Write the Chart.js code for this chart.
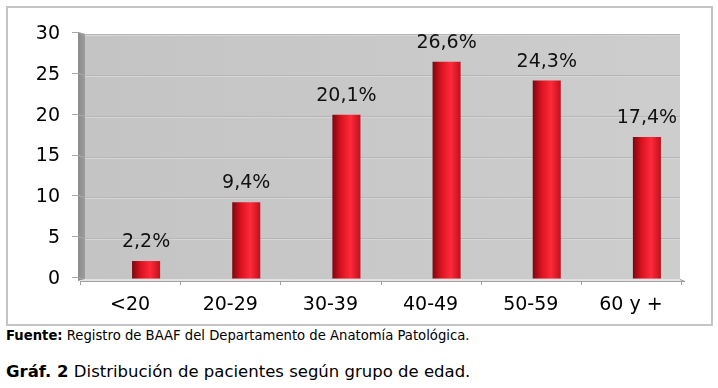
<!DOCTYPE html>
<html>
<head>
<meta charset="utf-8">
<script src="https://cdn.jsdelivr.net/npm/chart.js@4.4.1/dist/chart.umd.min.js"></script>
<style>
  body { margin: 0; background: #fff; width: 718px; height: 388px; position: relative; overflow: hidden; font-family: 'DejaVu Sans', Verdana, sans-serif; color: #000; }
  #caja { position: absolute; left: 6px; top: 6px; width: 703px; height: 316px; border: 2px solid #c4c4c4; }
  #fuente { position: absolute; left: 6px; top: 328px; font-size: 13.2px; line-height: 15px; white-space: nowrap; }
  #titulo { position: absolute; left: 6px; top: 362px; font-size: 16.5px; line-height: 20px; white-space: nowrap; }
</style>
</head>
<body>
<div id="caja"><canvas id="grafico" width="703" height="316"></canvas></div>
<div id="fuente"><b>Fuente:</b> Registro de BAAF del Departamento de Anatomía Patológica.</div>
<div id="titulo"><b>Gráf. 2</b> Distribución de pacientes según grupo de edad.</div>
<script>
// datos del grafico
const categorias = ['<20', '20-29', '30-39', '40-49', '50-59', '60 y +'];
const porcentajes = [2.2, 9.4, 20.1, 26.6, 24.3, 17.4];
const marcasY = [0, 5, 10, 15, 20, 25, 30];

var ctx = document.getElementById('grafico').getContext('2d');

function formato(v) {
    return v.toFixed(1).replace('.', ',') + '%';
}

// pared gris de fondo, pared lateral y piso (efecto 3D)
const fondo3D = {
    id: 'fondo3D',
    beforeDraw(chart) {
        const c = chart.ctx;
        const a = chart.chartArea;
        const y = chart.scales.y;
        c.save();
        c.fillStyle = '#fff';
        c.fillRect(0, 0, chart.width, chart.height);

        // pared del fondo
        let g = c.createLinearGradient(a.left - 11, 0, a.right - 17, 0);
        g.addColorStop(0, '#c4c4c4');
        g.addColorStop(1, '#cdcdcd');
        c.fillStyle = g;
        c.fillRect(a.left - 11, a.top, a.right - a.left - 6, a.bottom - a.top);

        // pared lateral
        g = c.createLinearGradient(a.left - 18, 0, a.left - 11, 0);
        g.addColorStop(0, '#8c8c8c');
        g.addColorStop(1, '#9c9c9c');
        c.fillStyle = g;
        c.beginPath();
        c.moveTo(a.left - 18, a.top - 2);
        c.lineTo(a.left - 11, a.top);
        c.lineTo(a.left - 11, a.bottom);
        c.lineTo(a.left - 18, a.bottom + 2);
        c.closePath();
        c.fill();

        // lineas de division
        marcasY.forEach(v => {
            const py = Math.round(y.getPixelForValue(v)) + 0.5;
            if (v > 0) {
                c.strokeStyle = '#b6b6b6';
                c.lineWidth = 1;
                c.beginPath();
                c.moveTo(a.left - 11, py);
                c.lineTo(a.right - 17, py);
                c.stroke();
                c.strokeStyle = '#d6d6d6';
                c.beginPath();
                c.moveTo(a.left - 11, py + 1);
                c.lineTo(a.right - 17, py + 1);
                c.stroke();
            }
            c.strokeStyle = '#a8a8a8';
            c.beginPath();
            c.moveTo(a.left - 24, py - 2);
            c.lineTo(a.left - 18, py - 2);
            c.lineTo(a.left - 11, py);
            c.stroke();
        });

        // piso
        c.fillStyle = '#e2e2e2';
        c.beginPath();
        c.moveTo(a.left - 11, a.bottom);
        c.lineTo(a.right - 17, a.bottom);
        c.lineTo(a.right - 12, a.bottom + 2);
        c.lineTo(a.left - 16, a.bottom + 2);
        c.closePath();
        c.fill();
        c.strokeStyle = '#a0a0a0';
        c.lineWidth = 1;
        c.beginPath();
        c.moveTo(a.left - 16, a.bottom + 2.5);
        c.lineTo(a.right - 12, a.bottom + 2.5);
        c.lineTo(a.right - 17, a.bottom + 0.5);
        c.stroke();
        const ancho = (a.right - a.left) / categorias.length;
        for (let i = 0; i <= categorias.length; i++) {
            const px = Math.round(a.left - 16 + i * ancho) + 0.5;
            c.beginPath();
            c.moveTo(px, a.bottom + 2);
            c.lineTo(px, a.bottom + 6);
            c.stroke();
        }
        c.restore();
    }
};

const etiquetas = {
    id: 'etiquetas',
    afterDatasetsDraw(chart) {
        const c = chart.ctx;
        const meta = chart.getDatasetMeta(0);
        c.save();
        c.font = '19px "DejaVu Sans"';
        c.fillStyle = '#111';
        c.textAlign = 'center';
        c.textBaseline = 'alphabetic';
        meta.data.forEach((bar, i) => {
            c.fillText(formato(porcentajes[i]), bar.x, bar.y - 14);
        });
        c.restore();
    }
};

function colorBarra(context) {
    const chart = context.chart;
    if (!chart.chartArea) return '#d01020';
    const cx = chart.scales.x.getPixelForValue(context.dataIndex);
    const g = chart.ctx.createLinearGradient(cx - 14, 0, cx + 14, 0);
    g.addColorStop(0, '#7a0810');
    g.addColorStop(0.3, '#d8121f');
    g.addColorStop(0.65, '#ff2a3a');
    g.addColorStop(1, '#c0101c');
    return g;
}

const chart = new Chart(ctx, {
    type: 'bar',
    data: {
        labels: categorias,
        datasets: [{
            label: 'Pacientes (%)',
            data: porcentajes,
            backgroundColor: colorBarra,
            borderWidth: 0,
            categoryPercentage: 1,
            barPercentage: 0.28
        }]
    },
    options: {
        responsive: false,
        animation: false,
        layout: { padding: { top: 26, right: 14, bottom: 0, left: 0 } },
        plugins: { legend: { display: false }, tooltip: { enabled: false } },
        scales: {
            x: {
                grid: { display: false },
                border: { display: false },
                ticks: {
                    color: '#000',
                    font: { family: 'DejaVu Sans', size: 19 },
                    padding: 7,
                    labelOffset: -16,
                    maxRotation: 0
                },
                afterFit(scale) { scale.height = 45; }
            },
            y: {
                min: 0,
                max: 30,
                grid: {
                    display: true,
                    color: 'rgba(0,0,0,0)',
                    drawOnChartArea: false,
                    drawTicks: true,
                    tickLength: 34
                },
                border: { display: false },
                ticks: {
                    color: '#000',
                    font: { family: 'DejaVu Sans', size: 19 },
                    padding: 2
                },
                afterBuildTicks(scale) { scale.ticks = marcasY.map(v => ({ value: v })); },
                afterFit(scale) { scale.width = 88; }
            }
        }
    },
    plugins: [fondo3D, etiquetas]
});
</script>
</body>
</html>
